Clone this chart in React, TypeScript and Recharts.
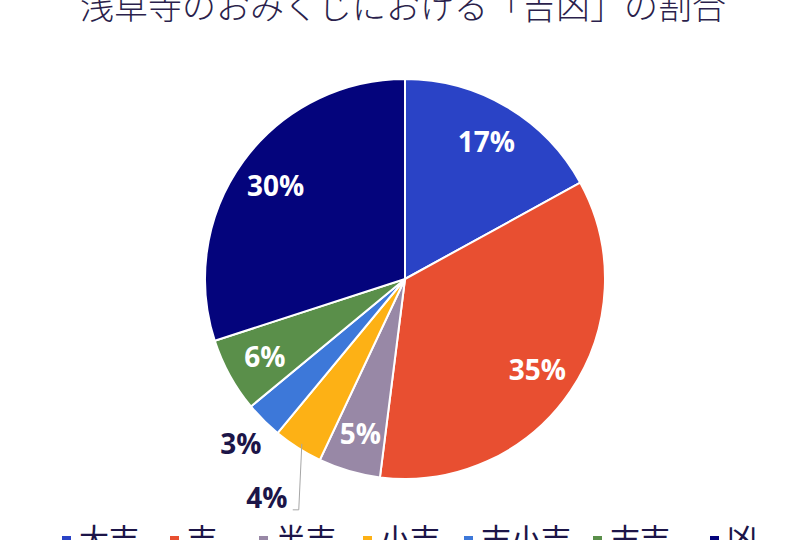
import React from "react";
import { PieChart, Pie, Cell } from "recharts";

const categories = ["大吉", "吉", "半吉", "小吉", "末小吉", "末吉", "凶"];
const shares = [17, 35, 5, 4, 3, 6, 30];
const colors = ["#2a43c6", "#e84f31", "#9888a6", "#fdb115", "#3d78d9", "#5a8f4a", "#04047c"];

const title = "浅草寺のおみくじにおける「吉凶」の割合";

const data = categories.map((name, i) => ({ name, value: shares[i] }));

const RAD = Math.PI / 180;

// inside labels for big slices, outside ones for the two small slices
const renderLabel = (props: any) => {
  const { cx, cy, midAngle, outerRadius, index, value } = props;
  const outside = index === 3 || index === 4;
  const r = index === 4 ? outerRadius * 1.16 : index === 3 ? outerRadius * 1.29 : outerRadius * 0.8;
  const x = cx + r * Math.cos(-midAngle * RAD);
  const y = cy + r * Math.sin(-midAngle * RAD);
  const textEl = (
    <text
      x={x}
      y={y}
      fill={outside ? "#1c1548" : "#ffffff"}
      textAnchor="middle"
      dominantBaseline="central"
      fontFamily="'Open Sans', Lato, sans-serif"
      fontWeight={700}
      fontSize={28}
    >
      {`${value}%`}
    </text>
  );
  if (index === 3) {
    // leader line from the slice edge down to the label
    const ex = cx + outerRadius * Math.cos(-midAngle * RAD);
    const ey = cy + outerRadius * Math.sin(-midAngle * RAD);
    return (
      <g>
        <polyline
          points={`${ex + 4},${ey - 4} ${x + 32},${y + 13} ${x + 26},${y + 13}`}
          fill="none"
          stroke="#a6a6a6"
          strokeWidth={1}
        />
        {textEl}
      </g>
    );
  }
  return textEl;
};

export default function App() {
  const legendX = [62, 170, 259, 363, 464, 593, 710];
  return (
    <div style={{ position: "absolute", left: 0, top: 0, width: 810, height: 540, background: "#fff", overflow: "hidden" }}>
      <PieChart width={810} height={540} margin={{ top: 0, right: 0, bottom: 0, left: 0 }}>
        <text
          x={403}
          y={19}
          textAnchor="middle"
          fill="#2b1f4c"
          fontFamily="'Noto Sans CJK JP', sans-serif"
          fontWeight={300}
          fontSize={34}
        >
          {title}
        </text>
        <Pie
          data={data}
          dataKey="value"
          nameKey="name"
          cx={405}
          cy={279}
          outerRadius={200}
          startAngle={90}
          endAngle={-270}
          stroke="#ffffff"
          strokeWidth={2}
          label={renderLabel}
          labelLine={false}
          isAnimationActive={false}
        >
          {data.map((d, i) => (
            <Cell key={d.name} fill={colors[i]} />
          ))}
        </Pie>
        {categories.map((c, i) => (
          <g key={c}>
            <rect x={legendX[i]} y={536} width={9} height={9} fill={colors[i]} />
            <text
              x={legendX[i] + 17}
              y={550}
              fill="#1c1548"
              fontFamily="'Noto Sans CJK JP', sans-serif"
              fontSize={30}
            >
              {c}
            </text>
          </g>
        ))}
      </PieChart>
    </div>
  );
}
